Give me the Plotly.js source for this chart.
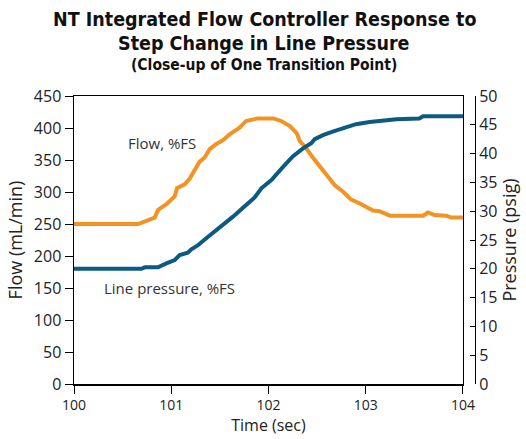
<!DOCTYPE html>
<html>
<head>
<meta charset="utf-8">
<script src="https://cdn.plot.ly/plotly-3.0.1.min.js"></script>
<style>html,body{margin:0;padding:0;background:#fff;}#chart{width:526px;height:439px;}</style>
</head>
<body>
<div id="chart"></div>
<script>
// Flow (mL/min), left axis
const flowTime = [100.00, 100.658, 100.83, 100.864, 100.95, 101.035, 101.059, 101.138, 101.19, 101.24, 101.29, 101.344, 101.395, 101.464, 101.532, 101.60, 101.70, 101.77, 101.84, 101.89, 102.05, 102.13, 102.22, 102.29, 102.32, 102.39, 102.46, 102.53, 102.595, 102.68, 102.77, 102.85, 102.94, 103.01, 103.075, 103.14, 103.25, 103.59, 103.64, 103.71, 103.83, 103.88, 104.00];
const flowValues = [250, 250, 260, 272, 281, 293, 306, 312, 321, 333, 347, 354, 367, 375, 381, 390, 400, 411, 413, 415, 415, 411, 403, 392, 380, 368, 353, 340, 329, 311, 300, 288, 282, 276, 271, 270, 263, 263, 268, 264, 263, 260, 260];
// Line pressure (psig), right axis
const pressTime = [100.00, 100.693, 100.727, 100.864, 100.95, 101.035, 101.087, 101.17, 101.207, 101.275, 101.36, 101.447, 101.532, 101.635, 101.738, 101.858, 101.927, 102.03, 102.15, 102.25, 102.355, 102.44, 102.475, 102.56, 102.66, 102.77, 102.90, 103.04, 103.14, 103.315, 103.55, 103.59, 104.00];
const pressValues = [20.0, 20.0, 20.25, 20.25, 20.95, 21.5, 22.4, 22.8, 23.4, 24.1, 25.3, 26.45, 27.6, 29.05, 30.6, 32.4, 33.97, 35.4, 37.7, 39.5, 40.9, 41.8, 42.5, 43.2, 43.8, 44.4, 45.1, 45.5, 45.7, 45.95, 46.1, 46.5, 46.5];
const xTicks = [100, 101, 102, 103, 104];
const flowTicks = [0, 50, 100, 150, 200, 250, 300, 350, 400, 450];
const pressTicks = [0, 5, 10, 15, 20, 25, 30, 35, 40, 45, 50];

const FONT = "'Open Sans', 'Noto Sans', sans-serif";
const TFONT = "'Liberation Sans Narrow', 'DejaVu Sans Condensed', 'Noto Sans', sans-serif";
const TXT = '#222';

const traces = [
  {x: flowTime, y: flowValues, type: 'scatter', mode: 'lines', yaxis: 'y',
   line: {color: '#f39323', width: 4}, showlegend: false, hoverinfo: 'skip'},
  {x: pressTime, y: pressValues, type: 'scatter', mode: 'lines', yaxis: 'y2',
   line: {color: '#0c5a82', width: 4}, showlegend: false, hoverinfo: 'skip'}
];

const layout = {
  width: 526, height: 439,
  margin: {l: 74, r: 51, t: 96, b: 55},
  paper_bgcolor: '#fff', plot_bgcolor: '#fff',
  font: {family: FONT, size: 14, color: TXT},
  xaxis: {
    domain: [0, 0.970], range: [100, 104], tickvals: xTicks,
    ticks: 'outside', ticklen: 8, tickcolor: '#000', showline: true, linecolor: '#000', linewidth: 1.5,
    mirror: true, showgrid: false, zeroline: false,
    tickfont: {size: 14, color: TXT},
    title: {text: 'Time (sec)', font: {size: 16, color: TXT}, standoff: 6}
  },
  yaxis: {
    range: [0, 450], tickvals: flowTicks,
    ticks: 'outside', ticklen: 8, tickcolor: '#000', showline: true, linecolor: '#000', linewidth: 1.5,
    mirror: true, showgrid: false, zeroline: false,
    tickfont: {size: 16, color: TXT},
    title: {text: 'Flow (mL/min)', font: {size: 18, color: TXT}, standoff: 6}
  },
  yaxis2: {
    range: [0, 50], tickvals: pressTicks, overlaying: 'y', side: 'right', anchor: 'free', position: 1,
    ticks: 'inside', ticklen: 5, tickcolor: '#000', showline: true, linecolor: '#000', linewidth: 1,
    showgrid: false, zeroline: false,
    tickfont: {size: 16, color: TXT},
    title: {text: 'Pressure (psig)', font: {size: 18, color: TXT}, standoff: 5}
  },
  annotations: [
    {text: '<b>NT Integrated Flow Controller Response to</b>', xref: 'paper', yref: 'paper', x: 0.475, y: 1.2655,
     xanchor: 'center', yanchor: 'middle', showarrow: false, font: {family: TFONT, size: 19.5, color: '#111'}},
    {text: '<b>Step Change in Line Pressure</b>', xref: 'paper', yref: 'paper', x: 0.475, y: 1.181,
     xanchor: 'center', yanchor: 'middle', showarrow: false, font: {family: TFONT, size: 19.5, color: '#111'}},
    {text: '<b>(Close-up of One Transition Point)</b>', xref: 'paper', yref: 'paper', x: 0.475, y: 1.106,
     xanchor: 'center', yanchor: 'middle', showarrow: false, font: {family: TFONT, size: 15.5, color: '#111'}},
    {text: 'Flow, %FS', xref: 'x', yref: 'y', x: 100.91, y: 377, showarrow: false,
     font: {size: 15, color: '#333'}},
    {text: 'Line pressure, %FS', xref: 'x', yref: 'y', x: 100.985, y: 150, showarrow: false,
     font: {size: 15, color: '#333'}}
  ]
};

Plotly.newPlot('chart', traces, layout, {staticPlot: true, displayModeBar: false});
</script>
</body>
</html>
